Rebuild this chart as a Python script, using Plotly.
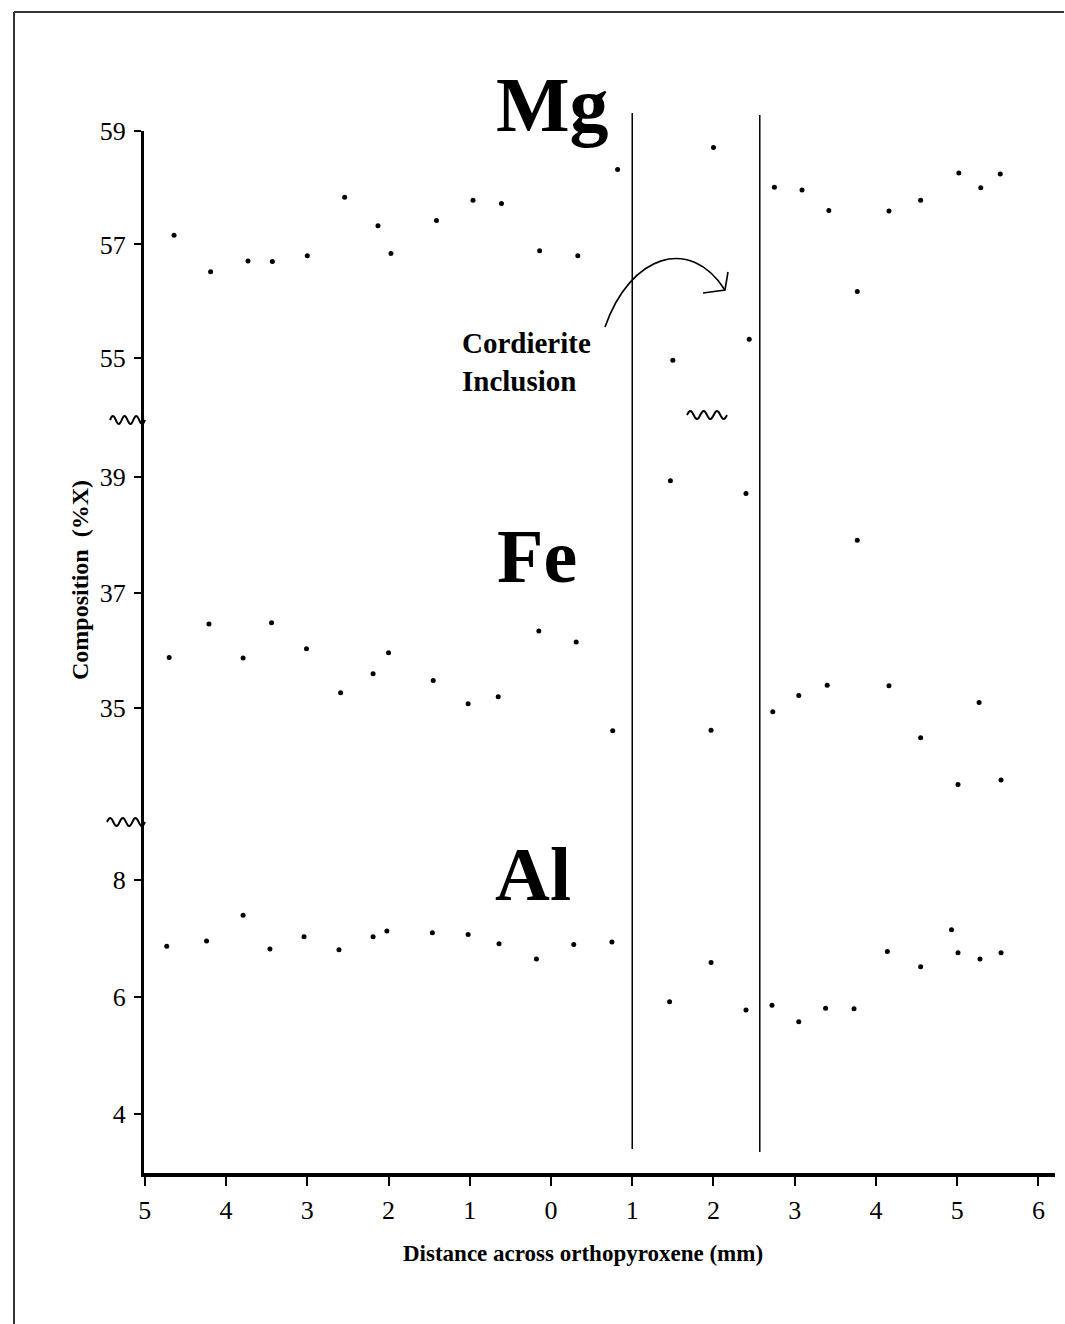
import numpy as np
import plotly.graph_objects as go

# Signed distance across the orthopyroxene grain (mm); tick labels show |x|
mg_x = [-4.64, -4.19, -3.73, -3.43, -3.00, -2.54, -2.13, -1.97, -1.41, -0.96, -0.61, -0.14, 0.33, 0.82,
        1.50, 2.00, 2.44, 2.75, 3.09, 3.42, 3.77, 4.16, 4.55, 5.02, 5.29, 5.53]
mg_v = [57.16, 56.52, 56.71, 56.70, 56.80, 57.83, 57.33, 56.84, 57.42, 57.78, 57.72, 56.89, 56.80, 58.32,
        54.96, 58.71, 55.33, 58.01, 57.96, 57.60, 56.17, 57.59, 57.78, 58.26, 58.00, 58.24]

fe_x = [-4.70, -4.21, -3.79, -3.44, -3.01, -2.59, -2.19, -2.00, -1.45, -1.02, -0.65, -0.15, 0.31, 0.76,
        1.47, 1.97, 2.40, 2.73, 3.05, 3.40, 3.77, 4.16, 4.55, 5.01, 5.27, 5.54]
fe_v = [35.88, 36.46, 35.87, 36.48, 36.03, 35.27, 35.60, 35.96, 35.48, 35.08, 35.20, 36.34, 36.15, 34.61,
        38.94, 34.62, 38.72, 34.94, 35.22, 35.40, 37.91, 35.39, 34.49, 33.68, 35.10, 33.76]

al_x = [-4.73, -4.24, -3.79, -3.46, -3.04, -2.61, -2.19, -2.02, -1.46, -1.02, -0.64, -0.18, 0.28, 0.75,
        1.46, 1.97, 2.40, 2.72, 3.05, 3.38, 3.73, 4.14, 4.55, 4.93, 5.01, 5.28, 5.54]
al_v = [6.87, 6.96, 7.40, 6.82, 7.03, 6.81, 7.03, 7.13, 7.10, 7.07, 6.91, 6.65, 6.90, 6.94,
        5.92, 6.59, 5.78, 5.86, 5.58, 5.81, 5.80, 6.78, 6.52, 7.15, 6.76, 6.65, 6.76]

# Boundaries of the cordierite inclusion (mm)
inclusion_edges = [1.0, 2.57]

x_ticks = list(range(-5, 7))
x_ticktext = [str(abs(v)) for v in x_ticks]
mg_ticks = [55, 57, 59]
fe_ticks = [35, 37, 39]
al_ticks = [4, 6, 8]

W, H = 1065, 1324
PL, PR, PT, PB = 144, 1055, 131, 1173   # plot area in pixels


def px(xp):
    return (xp - PL) / (PR - PL)


def py(yp):
    return (PB - yp) / (PB - PT)


SERIF = "Liberation Serif, Times New Roman, serif"
marker = dict(color="black", size=5)

fig = go.Figure()
fig.add_trace(go.Scatter(x=al_x, y=al_v, mode="markers", marker=marker, xaxis="x", yaxis="y", name="Al"))
fig.add_trace(go.Scatter(x=fe_x, y=fe_v, mode="markers", marker=marker, xaxis="x", yaxis="y2", name="Fe"))
fig.add_trace(go.Scatter(x=mg_x, y=mg_v, mode="markers", marker=marker, xaxis="x", yaxis="y3", name="Mg"))

d1 = py(823)
d2 = py(421)
yaxis_common = dict(showgrid=False, zeroline=False, showline=True, linecolor="black", linewidth=3,
                    ticks="outside", ticklen=7, tickwidth=1.5, tickcolor="black",
                    tickfont=dict(family=SERIF, size=26, color="black"), anchor="x",
                    ticklabelstandoff=3)

shapes = []
# inclusion boundaries
for xe, (top, bot) in zip(inclusion_edges, [(113, 1149), (115, 1152)]):
    shapes.append(dict(type="line", xref="x", yref="paper", x0=xe, x1=xe, y0=py(bot), y1=py(top),
                       line=dict(color="black", width=1.5)))


def wave(x0, x1, yc, amp=4.0, periods=3):
    t = np.linspace(0, 1, 60)
    xs = x0 + (x1 - x0) * t
    ys = yc - amp * np.sin(2 * np.pi * periods * t)
    pts = [f"{px(a):.5f},{py(b):.5f}" for a, b in zip(xs, ys)]
    return "M " + " L ".join(pts)


for (a, b, c) in [(110, 145, 420), (107, 145, 822), (687, 727, 415)]:
    shapes.append(dict(type="path", xref="paper", yref="paper", path=wave(a, b, c),
                       line=dict(color="black", width=2)))

# curved arrow pointing into the inclusion
curve = (f"M {px(605):.5f},{py(327):.5f} C {px(630):.5f},{py(255):.5f} "
         f"{px(690):.5f},{py(235):.5f} {px(725):.5f},{py(290):.5f}")
shapes.append(dict(type="path", xref="paper", yref="paper", path=curve, line=dict(color="black", width=1.6)))
head = (f"M {px(728):.5f},{py(272):.5f} L {px(725):.5f},{py(290):.5f} L {px(703):.5f},{py(293):.5f}")
shapes.append(dict(type="path", xref="paper", yref="paper", path=head, line=dict(color="black", width=1.6)))

# page frame
shapes.append(dict(type="line", xref="paper", yref="paper", x0=px(14), x1=px(14), y0=py(1324), y1=py(12),
                   line=dict(color="#333", width=2)))
shapes.append(dict(type="line", xref="paper", yref="paper", x0=px(14), x1=px(1064), y0=py(12), y1=py(12),
                   line=dict(color="#333", width=2)))

annotations = [
    dict(text="<b>Mg</b>", x=px(552), y=py(104), xref="paper", yref="paper", showarrow=False,
         font=dict(family=SERIF, size=78, color="black"), xanchor="center", yanchor="middle"),
    dict(text="<b>Fe</b>", x=px(537), y=py(556), xref="paper", yref="paper", showarrow=False,
         font=dict(family=SERIF, size=76, color="black"), xanchor="center", yanchor="middle"),
    dict(text="<b>Al</b>", x=px(533), y=py(874), xref="paper", yref="paper", showarrow=False,
         font=dict(family=SERIF, size=76, color="black"), xanchor="center", yanchor="middle"),
    dict(text="<b>Cordierite<br>Inclusion</b>", x=px(460), y=py(362), xref="paper", yref="paper",
         showarrow=False, align="left", font=dict(family=SERIF, size=29, color="black"),
         xanchor="left", yanchor="middle"),
    dict(text="<b>Composition  (%X)</b>", x=px(80), y=py(580), xref="paper", yref="paper",
         showarrow=False, textangle=-90, font=dict(family=SERIF, size=24, color="black"),
         xanchor="center", yanchor="middle"),
    dict(text="<b>Distance across orthopyroxene (mm)</b>", x=px(583), y=py(1253), xref="paper",
         yref="paper", showarrow=False, font=dict(family=SERIF, size=23, color="black"),
         xanchor="center", yanchor="middle"),
]

fig.update_layout(
    width=W, height=H,
    margin=dict(l=PL, r=W - PR, t=PT, b=H - PB, pad=0),
    paper_bgcolor="white", plot_bgcolor="white",
    showlegend=False,
    xaxis=dict(range=[-5.01, 6.204], tickvals=x_ticks, ticktext=x_ticktext, showgrid=False, zeroline=False,
               showline=True, linecolor="black", linewidth=4, ticks="outside", ticklen=9, tickwidth=1.5,
               tickcolor="black", tickfont=dict(family=SERIF, size=26, color="black"), anchor="y",
               ticklabelstandoff=2),
    yaxis=dict(domain=[0, d1], range=[2.998, 8.973], tickvals=al_ticks, **yaxis_common),
    yaxis2=dict(domain=[d1, d2], range=[33.014, 39.975], tickvals=fe_ticks, **yaxis_common),
    yaxis3=dict(domain=[d2, 1], range=[53.887, 59.0], tickvals=mg_ticks, **yaxis_common),
    shapes=shapes,
    annotations=annotations,
)

fig.write_html("out.html")
